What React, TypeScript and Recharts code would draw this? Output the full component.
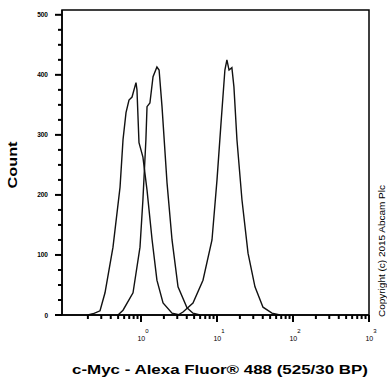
import { LineChart, Line, XAxis, YAxis, ReferenceArea } from "recharts";

// Histogram outlines (fluorescence, count)
const isotypeX = [0.2, 0.233, 0.289, 0.336, 0.428, 0.53, 0.58, 0.635, 0.695, 0.762, 0.859, 0.885, 0.941, 1.06, 1.2, 1.4, 1.62, 1.95, 2.56, 3.26];
const isotypeY = [0, 2, 7, 37, 113, 213, 292, 337, 358, 363, 387, 375, 287, 263, 208, 125, 58, 20, 3, 0];

const unlabelledX = [0.498, 0.58, 0.785, 0.97, 1.06, 1.16, 1.2, 1.31, 1.44, 1.62, 1.73, 1.89, 2.2, 2.56, 3.07, 4.03, 4.83, 5.97];
const unlabelledY = [0, 8, 37, 113, 192, 292, 347, 353, 397, 413, 408, 347, 220, 125, 47, 12, 3, 0];

const cMycX = [3.07, 3.57, 4.83, 6.54, 8.59, 10.0, 11.3, 12.7, 13.5, 14.4, 15.7, 16.7, 18.3, 21.3, 25.6, 31.6, 40.3, 52.9, 67.4];
const cMycY = [0, 5, 20, 58, 125, 225, 320, 408, 425, 408, 412, 380, 292, 192, 103, 47, 13, 3, 0];

const X_MIN = 0.0913;
const X_MAX = 1000;
const Y_MAX = 508;
const decades = [0.1, 1, 10, 100];
const majorTicks = [1, 10, 100, 1000];
const xTicks = [
  ...decades.flatMap((d) => [2, 3, 4, 5, 6, 7, 8, 9].map((m) => +(d * m).toPrecision(3))),
  ...majorTicks,
].sort((a, b) => a - b);
const yTicks = Array.from({ length: 21 }, (_, i) => i * 25);

const zip = (xs: number[], ys: number[]) => xs.map((x, i) => ({ x, count: ys[i] }));

const font = "Liberation Sans, Arial, sans-serif";

// every tick drawn here: short for minor, longer + label for decades
const XTick = (props: any) => {
  const { x, y, payload } = props;
  const lg = Math.log10(payload.value);
  const exp = Math.round(lg);
  const major = Math.abs(lg - exp) < 1e-6;
  return (
    <g>
      <path d={`M${x} ${y} V${y + (major ? 7 : 4)}`} stroke="#000" strokeWidth={2} fill="none" />
      {major && (
        <text x={x + 2} y={y + 26} fontSize={7} fontFamily={font} textAnchor="middle" fill="#000">
          10
          <tspan dy={-8} fontSize={6}>{exp}</tspan>
        </text>
      )}
    </g>
  );
};

const YTick = (props: any) => {
  const { x, y, payload } = props;
  const major = payload.value % 100 === 0;
  return (
    <g>
      <path d={`M${x} ${y} H${x - (major ? 7 : 4)}`} stroke="#000" strokeWidth={2} fill="none" />
      {major && (
        <text x={x - 14} y={y + 2.5} fontSize={6.5} fontFamily={font} fontWeight="bold" textAnchor="end" fill="#000">
          {payload.value}
        </text>
      )}
    </g>
  );
};

const YTitle = (props: any) => {
  const { viewBox } = props;
  const base = viewBox.y + viewBox.height / 2 + 26;
  return (
    <text x={17} y={base} transform={`rotate(-90 17 ${base})`} fontFamily={font} fontWeight="bold" fontSize={13} textLength={47} lengthAdjust="spacingAndGlyphs" fill="#000">
      Count
    </text>
  );
};

const XTitle = (props: any) => {
  const { viewBox } = props;
  return (
    <g>
      <text x={72} y={viewBox.y + 59} fontFamily={font} fontWeight="bold" fontSize={12.5} textLength={296} lengthAdjust="spacingAndGlyphs" fill="#000">
        c-Myc - Alexa Fluor® 488 (525/30 BP)
      </text>
      <text x={385} y={viewBox.y + 2} transform={`rotate(-90 385 ${viewBox.y + 2})`} fontFamily={font} fontSize={8.5} textLength={132} lengthAdjust="spacingAndGlyphs" fill="#000">
        Copyright (c) 2015 Abcam Plc
      </text>
    </g>
  );
};

export default function App() {
  return (
    <div style={{ position: "absolute", left: 0, top: 0, width: 387, height: 382, background: "#fff" }}>
      <LineChart width={387} height={382} margin={{ top: 10, right: 18, left: 0, bottom: 0 }}>
        <XAxis
          dataKey="x"
          type="number"
          scale="log"
          domain={[X_MIN, X_MAX]}
          allowDataOverflow
          ticks={xTicks}
          interval={0}
          tick={<XTick />}
          tickLine={false}
          tickSize={0}
          tickMargin={0}
          height={67}
          axisLine={{ stroke: "#000", strokeWidth: 1.5 }}
          label={<XTitle />}
        />
        <YAxis
          type="number"
          domain={[0, Y_MAX]}
          allowDataOverflow
          ticks={yTicks}
          interval={0}
          tick={<YTick />}
          tickLine={false}
          tickSize={0}
          tickMargin={0}
          width={62}
          axisLine={{ stroke: "#000", strokeWidth: 1.5 }}
          label={<YTitle />}
        />
        <ReferenceArea x1={X_MIN} x2={X_MAX} y1={0} y2={Y_MAX} fill="none" stroke="#000" strokeWidth={1.5} fillOpacity={0} />
        <Line data={zip(isotypeX, isotypeY)} dataKey="count" type="linear" stroke="#111" strokeWidth={1.4} dot={false} isAnimationActive={false} />
        <Line data={zip(unlabelledX, unlabelledY)} dataKey="count" type="linear" stroke="#111" strokeWidth={1.4} dot={false} isAnimationActive={false} />
        <Line data={zip(cMycX, cMycY)} dataKey="count" type="linear" stroke="#111" strokeWidth={1.4} dot={false} isAnimationActive={false} />
      </LineChart>
    </div>
  );
}
